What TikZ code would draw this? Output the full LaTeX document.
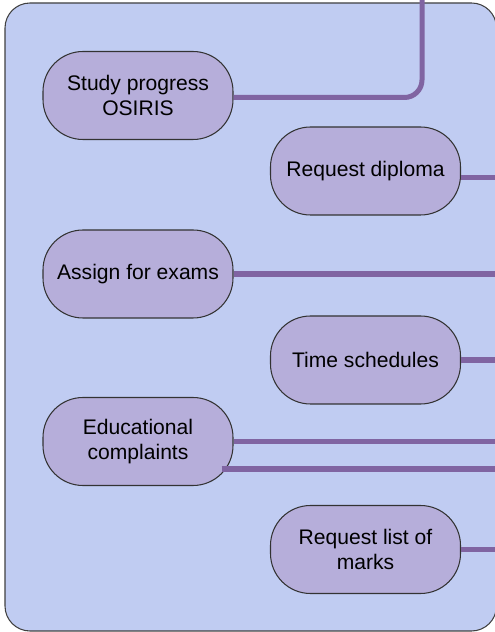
\documentclass[tikz,border=0pt]{standalone}
\usepackage{fontspec}
\setmainfont{Liberation Sans}
\usepackage{tikz}
\usetikzlibrary{calc,positioning}
\definecolor{panelblue}{RGB}{192,204,242}
\definecolor{boxlilac}{RGB}{182,174,218}
\definecolor{linkpurple}{RGB}{128,100,162}
\tikzset{
  box/.style={draw=black!80,line width=0.6pt,fill=boxlilac,rounded corners=0.8cm,
    minimum width=3.8cm,minimum height=1.76cm,inner sep=0pt,align=center,
    font=\fontsize{12}{14.4}\selectfont},
  link/.style={draw=linkpurple,line width=2.85pt}
}

\begin{document}
\begin{tikzpicture}
      \useasboundingbox (0,0) rectangle (9.9,12.64);
      % Panel
      \draw[fill=panelblue,draw=black!75,line width=0.6pt,rounded corners=0.5cm] (0.1,0.02) rectangle (9.93,12.58);
      % Left column
      \node[box] (study) at (2.76,10.73) {Study progress\\OSIRIS};
      \node[box] (assign) at (2.76,7.16) {Assign for exams};
      \node[box] (complaints) at (2.76,3.81) {Educational\\complaints};
      % Right column
      \node[box] (diploma) at (7.31,9.22) {Request diploma};
      \node[box] (schedules) at (7.31,5.44) {Time schedules};
      \node[box] (marks) at (7.31,1.65) {Request list of\\marks};
      % Free ends
      \coordinate (rim) at (9.9,0);
      \coordinate (studytop) at (8.44,12.64);
      \coordinate (studyout) at ($(study.east)+(0,-0.04)$);
      \coordinate (diplomaout) at ($(diploma.east)+(0,-0.14)$);
      \coordinate (complaintsout) at ($(complaints.east)+(-0.24,-0.55)$);
      % Links
      \draw[link,rounded corners=0.35cm] (studyout) -- (studyout -| studytop) -- (studytop);
      \draw[link] (diplomaout) -- (diplomaout -| rim);
      \draw[link] (assign.east) -- (assign.east -| rim);
      \draw[link] (schedules.east) -- (schedules.east -| rim);
      \draw[link] (complaints.east) -- (complaints.east -| rim);
      \draw[link] (complaintsout) -- (complaintsout -| rim);
      \draw[link] (marks.east) -- (marks.east -| rim);
    \end{tikzpicture}
\end{document}
